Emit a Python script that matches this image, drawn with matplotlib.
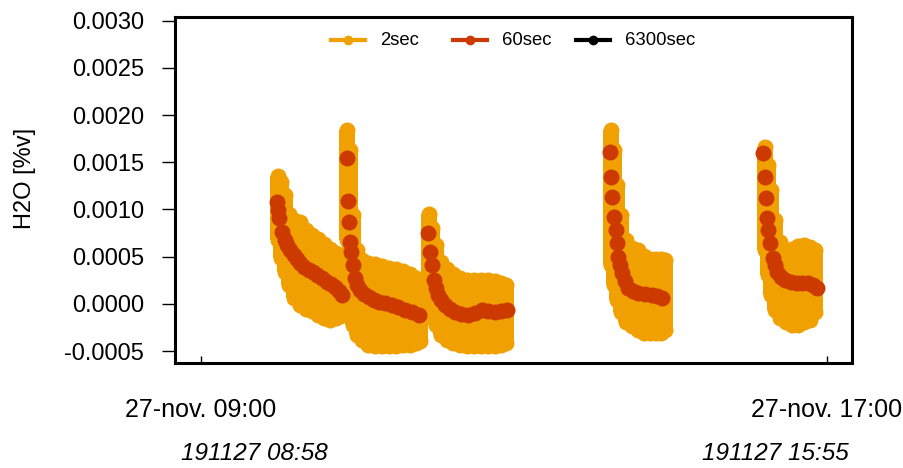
import matplotlib
matplotlib.use("Agg")
import matplotlib.pyplot as plt

plt.rcParams['font.family'] = ['Liberation Sans', 'DejaVu Sans']

# 2sec data: spread of the noisy cloud (time in hours, low / high in %v)
t_2sec = [9.990, 10.028, 10.079, 10.130, 10.194, 10.271, 10.347, 10.424, 10.501, 10.577, 10.654, 10.731, 10.782,
          10.871, 10.909, 10.948, 10.999, 11.063, 11.139, 11.229, 11.318, 11.407, 11.497, 11.586, 11.676, 11.752, 11.803,
          11.918, 11.957, 12.008, 12.072, 12.148, 12.225, 12.314, 12.404, 12.493, 12.582, 12.672, 12.761, 12.838, 12.902,
          14.243, 14.281, 14.319, 14.371, 14.434, 14.511, 14.587, 14.664, 14.741, 14.817, 14.881, 14.932,
          16.209, 16.248, 16.286, 16.337, 16.401, 16.478, 16.554, 16.631, 16.708, 16.784, 16.848]
lo_2sec = [6.76e-4, 4.85e-4, 3.37e-4, 1.99e-4, 0.62e-4, -0.13e-4, -0.55e-4, -0.76e-4, -1.19e-4, -1.50e-4, -1.72e-4, -1.50e-4, -1.29e-4,
           6.76e-4, 0.40e-4, -2.25e-4, -3.31e-4, -3.84e-4, -4.37e-4, -4.47e-4, -4.47e-4, -4.47e-4, -4.47e-4, -4.37e-4, -4.37e-4, -4.15e-4, -3.94e-4,
           3.05e-4, -0.66e-4, -2.25e-4, -3.31e-4, -3.84e-4, -4.15e-4, -4.37e-4, -4.47e-4, -4.47e-4, -4.47e-4, -4.47e-4, -4.47e-4, -4.37e-4, -4.15e-4,
           4.11e-4, 1.99e-4, 0.40e-4, -0.87e-4, -1.93e-4, -2.35e-4, -2.78e-4, -3.09e-4, -3.09e-4, -3.09e-4, -3.09e-4, -2.78e-4,
           5.70e-4, 3.05e-4, 0.93e-4, -0.66e-4, -1.50e-4, -1.93e-4, -2.25e-4, -2.25e-4, -1.93e-4, -1.72e-4, -0.87e-4]
hi_2sec = [13.54e-4, 12.91e-4, 11.53e-4, 9.52e-4, 8.88e-4, 8.67e-4, 7.82e-4, 7.29e-4, 6.87e-4, 6.34e-4, 5.81e-4, 5.38e-4, 5.07e-4,
           18.42e-4, 16.30e-4, 9.41e-4, 5.70e-4, 4.64e-4, 4.32e-4, 4.22e-4, 4.01e-4, 3.79e-4, 3.69e-4, 3.48e-4, 3.16e-4, 2.74e-4, 2.31e-4,
           9.52e-4, 8.03e-4, 6.23e-4, 4.43e-4, 3.69e-4, 3.16e-4, 2.74e-4, 2.52e-4, 2.52e-4, 2.52e-4, 2.52e-4, 2.42e-4, 2.21e-4, 1.99e-4,
           18.42e-4, 16.30e-4, 12.59e-4, 9.41e-4, 6.76e-4, 5.91e-4, 5.70e-4, 5.07e-4, 4.75e-4, 4.75e-4, 4.75e-4, 4.64e-4,
           16.62e-4, 14.71e-4, 12.06e-4, 8.88e-4, 6.55e-4, 5.70e-4, 5.81e-4, 6.13e-4, 6.23e-4, 6.02e-4, 5.70e-4]

# 60sec averages
t_60sec = [9.977, 9.990, 10.003, 10.041, 10.079, 10.105, 10.143, 10.194, 10.232, 10.271, 10.322, 10.386, 10.437, 10.488,
           10.552, 10.616, 10.667, 10.718, 10.769, 10.807,
           10.871, 10.884, 10.897, 10.909, 10.922, 10.948, 10.973, 10.999, 11.037, 11.088, 11.152, 11.216, 11.280, 11.356,
           11.446, 11.522, 11.612, 11.701, 11.791,
           11.906, 11.931, 11.957, 11.982, 12.008, 12.033, 12.072, 12.123, 12.187, 12.250, 12.327, 12.416, 12.506, 12.595,
           12.672, 12.761, 12.838, 12.914,
           14.230, 14.243, 14.255, 14.281, 14.307, 14.319, 14.332, 14.358, 14.383, 14.421, 14.460, 14.524, 14.587, 14.677,
           14.766, 14.830, 14.894,
           16.184, 16.209, 16.222, 16.235, 16.248, 16.273, 16.312, 16.337, 16.363, 16.414, 16.465, 16.541, 16.618, 16.682,
           16.759, 16.822, 16.874]
h2o_60sec = [10.79e-4, 9.94e-4, 9.09e-4, 7.61e-4, 6.76e-4, 6.23e-4, 5.70e-4, 5.17e-4, 4.75e-4, 4.32e-4, 3.90e-4, 3.58e-4, 3.37e-4, 3.05e-4,
             2.74e-4, 2.31e-4, 2.10e-4, 1.78e-4, 1.36e-4, 0.93e-4,
             15.45e-4, 10.89e-4, 8.67e-4, 6.55e-4, 5.49e-4, 4.11e-4, 2.74e-4, 1.99e-4, 1.46e-4, 1.04e-4, 0.72e-4, 0.40e-4, 0.19e-4, 0.09e-4,
             -0.13e-4, -0.34e-4, -0.66e-4, -0.87e-4, -1.19e-4,
             7.50e-4, 5.49e-4, 4.11e-4, 2.52e-4, 1.68e-4, 0.93e-4, 0.40e-4, -0.13e-4, -0.55e-4, -0.87e-4, -1.08e-4, -1.19e-4, -0.97e-4, -0.66e-4,
             -0.76e-4, -0.87e-4, -0.76e-4, -0.66e-4,
             16.09e-4, 13.44e-4, 11.32e-4, 9.20e-4, 7.82e-4, 6.44e-4, 4.96e-4, 4.11e-4, 3.26e-4, 2.42e-4, 1.68e-4, 1.36e-4, 1.15e-4, 1.04e-4,
             0.93e-4, 0.83e-4, 0.62e-4,
             15.98e-4, 13.44e-4, 11.21e-4, 9.09e-4, 7.82e-4, 6.44e-4, 4.85e-4, 4.11e-4, 3.37e-4, 2.84e-4, 2.52e-4, 2.31e-4, 2.21e-4, 2.21e-4,
             2.21e-4, 1.99e-4, 1.68e-4]

# 6300sec averages (none in window)
t_6300sec = []
h2o_6300sec = []

yticks = [-0.0005, 0.0, 0.0005, 0.0010, 0.0015, 0.0020, 0.0025, 0.0030]
xticks = [9.0, 17.0]
xticklabels = ["27-nov. 09:00", "27-nov. 17:00"]
file_labels = ["191127 08:58", "191127 15:55"]
series_names = ["2sec", "60sec", "6300sec"]

orange = "#F0A000"
red = "#CC3A00"
colors = [orange, red, "black"]
msize = 11.5

fig = plt.figure(figsize=(9.04, 4.68), dpi=100)
ax = fig.add_axes([175/904, 1 - 363/468, 677/904, 346.5/468])

# 2sec cloud: columns with round ends
ax.vlines(t_2sec, lo_2sec, hi_2sec, colors=orange, linewidth=msize)
ax.plot(t_2sec, lo_2sec, 'o', color=orange, markersize=msize, markeredgewidth=0)
ax.plot(t_2sec, hi_2sec, 'o', color=orange, markersize=msize, markeredgewidth=0)

ax.plot(t_60sec, h2o_60sec, 'o', color=red, markersize=msize, markeredgewidth=0)
ax.plot(t_6300sec, h2o_6300sec, 'o', color='black', markersize=msize, markeredgewidth=0)

ax.set_xlim(8.6743, 17.3206)
ax.set_ylim(-0.000627, 0.003045)

ax.set_yticks(yticks)
ax.set_yticklabels(["%.4f" % v for v in yticks])
ax.set_xticks(xticks)
ax.set_xticklabels(xticklabels)
ax.tick_params(axis='y', direction='out', length=9.4, width=1, pad=13, labelsize=17)
ax.tick_params(axis='x', direction='in', length=5, width=1, pad=25, labelsize=18)
for s in ax.spines.values():
    s.set_linewidth(2.2)

fig.text(25/904, 1 - 178/468, "H2O [%v]", rotation=90, ha='center', va='center', fontsize=17)
fig.text(254/904, 1 - 454/468, file_labels[0], style='italic', ha='center', va='center', fontsize=17.5)
fig.text(775/904, 1 - 454/468, file_labels[1], style='italic', ha='center', va='center', fontsize=17.5)

# legend with equal column widths (R style)
ly = 0.932
for i, (name, c) in enumerate(zip(series_names, colors)):
    x0 = (331 + 122.5 * i - 175) / 677
    x1 = (365 + 122.5 * i - 175) / 677
    ax.plot([x0, x1], [ly, ly], '-', color=c, lw=3, transform=ax.transAxes, clip_on=False)
    ax.plot([(x0 + x1) / 2], [ly], 'o', color=c, markersize=7, markeredgewidth=0, transform=ax.transAxes, clip_on=False)
    ax.text((380 + 122.5 * i - 175) / 677, ly, name, transform=ax.transAxes, ha='left', va='center', fontsize=13.3)

fig.savefig("out.png", dpi=100)
